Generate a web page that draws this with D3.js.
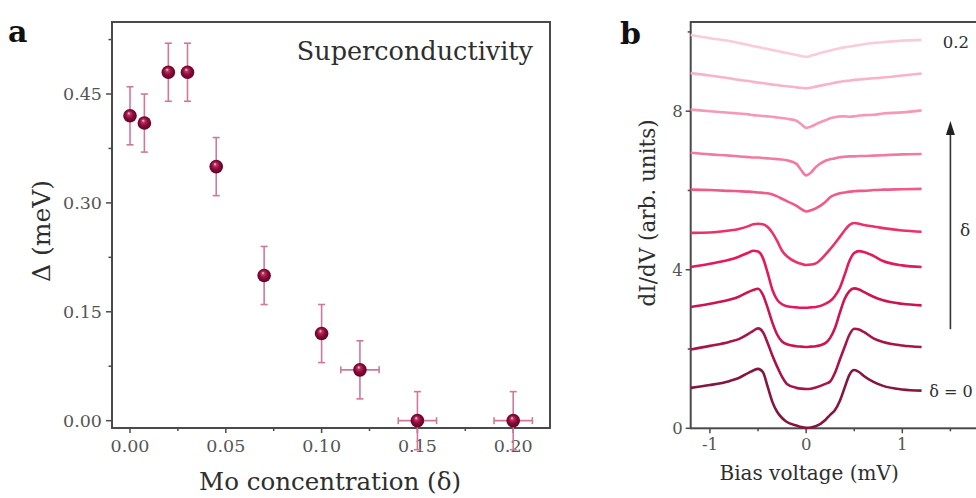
<!DOCTYPE html>
<html>
<head>
<meta charset="utf-8">
<script src="https://cdn.jsdelivr.net/npm/d3@7"></script>
<style>
  html, body { margin: 0; padding: 0; background: #fff; }
  svg { display: block; }
  text { font-family: "DejaVu Serif", "Liberation Serif", serif; }
</style>
</head>
<body>
<svg id="fig" width="976" height="498"></svg>
<script>
// ---------- Panel a: gap vs Mo concentration ----------
const moConc   = [0.00, 0.0075, 0.02, 0.03, 0.045, 0.07, 0.10, 0.12, 0.15, 0.20];
const gapMeV   = [0.42, 0.41, 0.48, 0.48, 0.35, 0.20, 0.12, 0.07, 0.00, 0.00];
const gapErr   = [0.04, 0.04, 0.04, 0.04, 0.04, 0.04, 0.04, 0.04, 0.04, 0.04];
const concErr  = [0, 0, 0, 0, 0, 0, 0, 0.01, 0.01, 0.01];
const aXTicks  = [0.00, 0.05, 0.10, 0.15, 0.20];
const aXMinor  = [0.025, 0.075, 0.125, 0.175];
const aYTicks  = [0.00, 0.15, 0.30, 0.45];
const aYMinor  = [0.075, 0.225, 0.375, 0.525];

// ---------- Panel b: tunnelling spectra, offset by delta ----------
const biasV = [-1.2, -1.0, -0.8, -0.7, -0.6, -0.55, -0.5, -0.45, -0.4, -0.35, -0.3, -0.25, -0.2, -0.1, -0.05,
               0, 0.05, 0.1, 0.2, 0.25, 0.3, 0.35, 0.4, 0.45, 0.5, 0.55, 0.6, 0.7, 0.8, 1.0, 1.2];
const spec0 = [1.02, 1.09, 1.19, 1.27, 1.40, 1.46, 1.50, 1.42, 1.05, 0.66, 0.41, 0.26, 0.16, 0.07, 0.03,
               0.01, 0.02, 0.05, 0.21, 0.34, 0.46, 0.69, 1.02, 1.35, 1.47, 1.42, 1.32, 1.17, 1.07, 0.98, 0.95];
const spec1 = [1.99, 2.08, 2.18, 2.25, 2.38, 2.46, 2.52, 2.43, 2.15, 1.83, 1.55, 1.30, 1.12, 1.02, 1.00,
               0.99, 1.00, 1.03, 1.12, 1.18, 1.40, 1.73, 2.05, 2.36, 2.51, 2.49, 2.43, 2.27, 2.18, 2.09, 2.05];
const spec2 = [3.06, 3.14, 3.24, 3.32, 3.44, 3.49, 3.52, 3.37, 3.04, 2.66, 2.36, 2.19, 2.12, 2.07, 2.06,
               2.05, 2.06, 2.07, 2.15, 2.28, 2.53, 2.91, 3.26, 3.46, 3.53, 3.50, 3.44, 3.32, 3.23, 3.14, 3.10];
const spec3 = [4.07, 4.15, 4.25, 4.33, 4.43, 4.48, 4.46, 4.30, 3.92, 3.49, 3.24, 3.13, 3.08, 3.05, 3.04,
               3.04, 3.05, 3.06, 3.14, 3.21, 3.34, 3.54, 3.87, 4.22, 4.42, 4.47, 4.45, 4.35, 4.22, 4.11, 4.07];
const spec4 = [4.93, 4.94, 4.99, 5.03, 5.10, 5.15, 5.16, 5.15, 5.08, 4.93, 4.72, 4.48, 4.34, 4.19, 4.15,
               4.12, 4.13, 4.16, 4.38, 4.52, 4.67, 4.83, 4.99, 5.13, 5.18, 5.16, 5.13, 5.09, 5.05, 4.99, 4.96];
const spec5 = [6.02, 6.01, 5.99, 5.98, 5.97, 5.96, 5.95, 5.94, 5.93, 5.90, 5.85, 5.79, 5.73, 5.61, 5.53,
               5.47, 5.50, 5.55, 5.71, 5.83, 5.89, 5.93, 5.95, 5.97, 5.98, 5.99, 5.99, 6.01, 6.02, 6.03, 6.04];
const spec6 = [6.95, 6.91, 6.88, 6.86, 6.84, 6.83, 6.83, 6.82, 6.81, 6.80, 6.79, 6.78, 6.76, 6.67, 6.51,
               6.38, 6.45, 6.59, 6.75, 6.79, 6.81, 6.84, 6.85, 6.86, 6.86, 6.87, 6.87, 6.88, 6.89, 6.91, 6.92];
const spec7 = [8.04, 8.00, 7.96, 7.94, 7.92, 7.90, 7.89, 7.88, 7.87, 7.86, 7.84, 7.83, 7.81, 7.76, 7.67,
               7.58, 7.61, 7.67, 7.77, 7.82, 7.85, 7.87, 7.87, 7.86, 7.87, 7.89, 7.90, 7.91, 7.94, 7.97, 8.02];
const spec8 = [8.96, 8.90, 8.83, 8.79, 8.76, 8.74, 8.72, 8.71, 8.69, 8.67, 8.66, 8.64, 8.63, 8.60, 8.59,
               8.58, 8.59, 8.62, 8.67, 8.69, 8.72, 8.74, 8.76, 8.77, 8.79, 8.80, 8.81, 8.83, 8.85, 8.90, 8.95];
const spec9 = [9.92, 9.84, 9.77, 9.72, 9.67, 9.64, 9.62, 9.59, 9.57, 9.54, 9.52, 9.49, 9.47, 9.42, 9.39,
               9.37, 9.40, 9.43, 9.50, 9.53, 9.56, 9.59, 9.61, 9.63, 9.65, 9.67, 9.69, 9.72, 9.74, 9.78, 9.80];
const spectra = [spec0, spec1, spec2, spec3, spec4, spec5, spec6, spec7, spec8, spec9];
const specColors = ["#84163f", "#a81348", "#cc1450", "#e4185a", "#ec3069", "#ef5a89",
                    "#f27aa0", "#f597b7", "#f8b3ca", "#fbcadb"];
const bXTicks = [-1, 0, 1];
const bXMinor = [-0.5, 0.5, 1.5];
const bYTicks = [0, 4, 8];
const bYMinor = [2, 6, 10];

const svg = d3.select("#fig");
const defs = svg.append("defs");
const axisCol = "#4a4a4a";
const tickTextCol = "#555";
const titleCol = "#2e2e2e";

// ================= Panel a =================
const ax = d3.scaleLinear().domain([-0.0094, 0.2192]).range([112, 550]);
const ay = d3.scaleLinear().domain([-0.0101, 0.5492]).range([428, 22]);

const ga = svg.append("g");
ga.append("rect")
  .attr("x", ax.range()[0]).attr("y", ay.range()[1])
  .attr("width", ax.range()[1] - ax.range()[0])
  .attr("height", ay.range()[0] - ay.range()[1])
  .attr("fill", "none").attr("stroke", axisCol).attr("stroke-width", 2);

ga.selectAll(".ayt").data(aYTicks).join("line")
  .attr("x1", ax.range()[0] - 6).attr("x2", ax.range()[0])
  .attr("y1", d => ay(d)).attr("y2", d => ay(d))
  .attr("stroke", axisCol).attr("stroke-width", 1.5);
ga.selectAll(".aym").data(aYMinor).join("line")
  .attr("x1", ax.range()[0] - 3.5).attr("x2", ax.range()[0])
  .attr("y1", d => ay(d)).attr("y2", d => ay(d))
  .attr("stroke", axisCol).attr("stroke-width", 1.5);
ga.selectAll(".axt").data(aXTicks).join("line")
  .attr("x1", d => ax(d)).attr("x2", d => ax(d))
  .attr("y1", ay.range()[0]).attr("y2", ay.range()[0] + 5)
  .attr("stroke", axisCol).attr("stroke-width", 1.5);
ga.selectAll(".axm").data(aXMinor).join("line")
  .attr("x1", d => ax(d)).attr("x2", d => ax(d))
  .attr("y1", ay.range()[0]).attr("y2", ay.range()[0] + 3)
  .attr("stroke", axisCol).attr("stroke-width", 1.5);

ga.selectAll(".ayl").data(aYTicks).join("text")
  .attr("x", ax.range()[0] - 10).attr("y", d => ay(d))
  .attr("dy", "0.36em").attr("text-anchor", "end")
  .attr("font-size", 17.5).attr("fill", tickTextCol)
  .text(d => d3.format(".2f")(d));
ga.selectAll(".axl").data(aXTicks).join("text")
  .attr("x", d => ax(d)).attr("y", ay.range()[0] + 24)
  .attr("text-anchor", "middle")
  .attr("font-size", 17.5).attr("fill", tickTextCol)
  .text(d => d3.format(".2f")(d));

ga.append("text")
  .attr("transform", "translate(50,231) rotate(-90)")
  .attr("text-anchor", "middle").attr("font-size", 25).attr("fill", titleCol)
  .text("Δ (meV)");
ga.append("text")
  .attr("x", 330).attr("y", 490)
  .attr("text-anchor", "middle").attr("font-size", 24.5).attr("fill", titleCol)
  .text("Mo concentration (δ)");
ga.append("text")
  .attr("x", 533).attr("y", 60).attr("text-anchor", "end")
  .attr("font-size", 25.5).attr("fill", titleCol)
  .text("Superconductivity");
svg.append("text")
  .attr("x", 8).attr("y", 42).attr("font-size", 30).attr("font-weight", "bold").attr("fill", "#111")
  .text("a");

// sphere-like marker shading
const grad = defs.append("radialGradient").attr("id", "ball")
  .attr("cx", "50%").attr("cy", "50%").attr("r", "55%")
  .attr("fx", "40%").attr("fy", "30%");
grad.append("stop").attr("offset", "0%").attr("stop-color", "#f6dbe3");
grad.append("stop").attr("offset", "22%").attr("stop-color", "#b8325f");
grad.append("stop").attr("offset", "55%").attr("stop-color", "#8a0a3a");
grad.append("stop").attr("offset", "100%").attr("stop-color", "#5c0022");

const pts = moConc.map((c, i) => ({ c, g: gapMeV[i], ge: gapErr[i], ce: concErr[i] }));
const errCol = "#d0789a";
const cap = 3.5;
const eg = ga.append("g").attr("stroke", errCol).attr("stroke-width", 1.6).attr("fill", "none");
pts.forEach(p => {
  eg.append("line").attr("x1", ax(p.c)).attr("x2", ax(p.c))
    .attr("y1", ay(p.g - p.ge)).attr("y2", ay(p.g + p.ge));
  eg.append("line").attr("x1", ax(p.c) - cap).attr("x2", ax(p.c) + cap)
    .attr("y1", ay(p.g + p.ge)).attr("y2", ay(p.g + p.ge));
  eg.append("line").attr("x1", ax(p.c) - cap).attr("x2", ax(p.c) + cap)
    .attr("y1", ay(p.g - p.ge)).attr("y2", ay(p.g - p.ge));
  if (p.ce > 0) {
    eg.append("line").attr("x1", ax(p.c - p.ce)).attr("x2", ax(p.c + p.ce))
      .attr("y1", ay(p.g)).attr("y2", ay(p.g));
    eg.append("line").attr("x1", ax(p.c - p.ce)).attr("x2", ax(p.c - p.ce))
      .attr("y1", ay(p.g) - cap).attr("y2", ay(p.g) + cap);
    eg.append("line").attr("x1", ax(p.c + p.ce)).attr("x2", ax(p.c + p.ce))
      .attr("y1", ay(p.g) - cap).attr("y2", ay(p.g) + cap);
  }
});
ga.selectAll(".pt").data(pts).join("circle")
  .attr("cx", d => ax(d.c)).attr("cy", d => ay(d.g)).attr("r", 6.8)
  .attr("fill", "url(#ball)");

// ================= Panel b =================
const bx = d3.scaleLinear().domain([-1.2, 2.0]).range([690.7, 998.5]);
const by = d3.scaleLinear().domain([0, 10.25]).range([428.3, 22]);
const gb = svg.append("g");

gb.append("rect")
  .attr("x", bx.range()[0]).attr("y", by.range()[1])
  .attr("width", bx.range()[1] - bx.range()[0])
  .attr("height", by.range()[0] - by.range()[1])
  .attr("fill", "none").attr("stroke", axisCol).attr("stroke-width", 2);

gb.selectAll(".byt").data(bYTicks).join("line")
  .attr("x1", bx.range()[0] - 5).attr("x2", bx.range()[0])
  .attr("y1", d => by(d)).attr("y2", d => by(d))
  .attr("stroke", axisCol).attr("stroke-width", 1.5);
gb.selectAll(".bym").data(bYMinor).join("line")
  .attr("x1", bx.range()[0] - 3).attr("x2", bx.range()[0])
  .attr("y1", d => by(d)).attr("y2", d => by(d))
  .attr("stroke", axisCol).attr("stroke-width", 1.5);
gb.selectAll(".bxt").data(bXTicks).join("line")
  .attr("x1", d => bx(d)).attr("x2", d => bx(d))
  .attr("y1", by.range()[0]).attr("y2", by.range()[0] + 5)
  .attr("stroke", axisCol).attr("stroke-width", 1.5);
gb.selectAll(".bxm").data(bXMinor).join("line")
  .attr("x1", d => bx(d)).attr("x2", d => bx(d))
  .attr("y1", by.range()[0]).attr("y2", by.range()[0] + 3)
  .attr("stroke", axisCol).attr("stroke-width", 1.5);

gb.selectAll(".byl").data(bYTicks).join("text")
  .attr("x", bx.range()[0] - 8).attr("y", d => by(d))
  .attr("dy", "0.36em").attr("text-anchor", "end")
  .attr("font-size", 16.5).attr("fill", tickTextCol)
  .text(d => d);
gb.selectAll(".bxl").data(bXTicks).join("text")
  .attr("x", d => bx(d)).attr("y", by.range()[0] + 22)
  .attr("text-anchor", "middle")
  .attr("font-size", 16.5).attr("fill", tickTextCol)
  .text(d => d);

gb.append("text")
  .attr("transform", "translate(655,213) rotate(-90)")
  .attr("text-anchor", "middle").attr("font-size", 21.5).attr("fill", titleCol)
  .text("dI/dV (arb. units)");
gb.append("text")
  .attr("x", bx(0) + 3).attr("y", 480)
  .attr("text-anchor", "middle").attr("font-size", 20).attr("fill", titleCol)
  .text("Bias voltage (mV)");
svg.append("text")
  .attr("x", 620).attr("y", 44).attr("font-size", 30).attr("font-weight", "bold").attr("fill", "#111")
  .text("b");

const line = d3.line()
  .x((d, i) => bx(biasV[i]))
  .y(d => by(d))
  .curve(d3.curveMonotoneX);
gb.selectAll(".spec").data(spectra).join("path")
  .attr("d", d => line(d))
  .attr("fill", "none")
  .attr("stroke", (d, i) => specColors[i])
  .attr("stroke-width", 2.6)
  .attr("stroke-linejoin", "round");

gb.append("text")
  .attr("x", bx(1.42)).attr("y", by(spec9[spec9.length - 1]) + 2)
  .attr("dy", "0.36em").attr("font-size", 16.5).attr("fill", titleCol)
  .text("0.2");
gb.append("text")
  .attr("x", bx(1.28)).attr("y", by(spec0[spec0.length - 1]) + 1)
  .attr("dy", "0.36em").attr("font-size", 16).attr("fill", titleCol)
  .text("δ = 0");

// arrow showing increasing delta
const arrowX = bx(1.5);
const arrowTop = by(7.75), arrowBottom = by(2.5);
gb.append("line")
  .attr("x1", arrowX).attr("x2", arrowX)
  .attr("y1", arrowBottom).attr("y2", arrowTop + 10)
  .attr("stroke", "#333").attr("stroke-width", 1.6);
gb.append("path")
  .attr("d", `M${arrowX},${arrowTop} L${arrowX - 4.5},${arrowTop + 14} L${arrowX + 4.5},${arrowTop + 14} Z`)
  .attr("fill", "#222");
gb.append("text")
  .attr("x", bx(1.6)).attr("y", by(5.0))
  .attr("dy", "0.36em").attr("font-size", 17).attr("fill", titleCol)
  .text("δ");
</script>
</body>
</html>
